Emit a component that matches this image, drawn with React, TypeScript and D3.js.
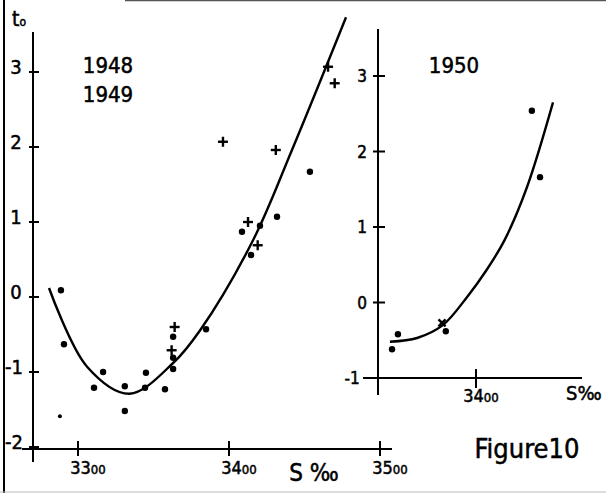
import React from "react";
import * as d3 from "d3";

// Left panel (1948, 1949)
const dotsLeftX = [3288.7, 3290.7, 3310.6, 3316.6, 3331, 3331, 3345, 3344.4, 3357.6, 3363, 3363, 3363, 3384.8, 3414.6, 3408.6, 3420.5, 3431.8, 3453.6, 3288];
const dotsLeftY = [0.09, -0.63, -1.21, -1.0, -1.19, -1.52, -1.01, -1.21, -1.23, -0.53, -0.81, -0.96, -0.43, 0.56, 0.87, 0.95, 1.07, 1.67, -1.59];
const crossLeftX = [3396, 3431, 3412.6, 3419, 3364, 3362, 3465.6, 3470];
const crossLeftY = [2.07, 1.96, 1.0, 0.69, -0.4, -0.71, 3.07, 2.85];
const curveLeftX = [3280.8, 3306, 3334, 3363, 3381, 3416, 3441.7, 3477.5];
const curveLeftY = [0.12, -0.93, -1.29, -0.88, -0.44, 0.76, 1.96, 3.73];
const yTicksLeft = [3, 2, 1, 0, -1, -2];
const xTicksLeft = [3300, 3400, 3500];

// Right panel (1950)
const dotsRightX = [3344.4, 3348.3, 3380, 3437, 3442.4];
const dotsRightY = [-0.62, -0.42, -0.38, 2.54, 1.66];
const crossRightX = [3377.5];
const crossRightY = [-0.27];
const curveRightX = [3343, 3361, 3378, 3394, 3407, 3419, 3433.8, 3451];
const curveRightY = [-0.52, -0.47, -0.3, 0.07, 0.43, 0.83, 1.53, 2.65];
const yTicksRight = [3, 2, 1, 0, -1];
const xTicksRight = [3400];

const FONT = "'DejaVu Sans Condensed', 'Liberation Sans Narrow', 'Liberation Sans', sans-serif";

function Cross({ x, y }: { x: number; y: number }) {
  const s = 5;
  return (
    <g stroke="#000" strokeWidth={2.4}>
      <line x1={x - s} x2={x + s} y1={y} y2={y} />
      <line x1={x} x2={x} y1={y - s} y2={y + s} />
    </g>
  );
}

const T = (props: any) => (
  <text fontFamily={FONT} fill="#000" stroke="#000" strokeWidth={0.5} textAnchor="middle" {...props} />
);

function XLabel({ x, y, v }: { x: number; y: number; v: number }) {
  const s = String(v);
  return (
    <T x={x} y={y} fontSize={18}>
      {s.slice(0, 2)}
      <tspan fontSize={13}>{s.slice(2)}</tspan>
    </T>
  );
}

export default function App() {
  const xL = d3.scaleLinear().domain([3300, 3500]).range([78, 380]);
  const yL = d3.scaleLinear().domain([-2, 3]).range([447, 72]);
  const xR = d3.scaleLinear().domain([3300, 3400]).range([325, 476]);
  const yR = d3.scaleLinear().domain([-1, 3]).range([378, 76]);

  const line = (xs: number[], ys: number[], sx: any, sy: any) =>
    d3
      .line<number>()
      .x((_, i) => sx(xs[i]))
      .y((_, i) => sy(ys[i]))
      .curve(d3.curveCatmullRom.alpha(0.5))(xs.map((_, i) => i)) || "";

  const axisL0 = xL.invert(33);
  const axisR0 = xR.invert(378);

  return (
    <svg
      width={606}
      height={493}
      style={{ position: "absolute", left: 0, top: 0, background: "#fff" }}
    >
      <rect x={0} y={0} width={606} height={493} fill="#fff" />
      {/* scan borders */}
      <line x1={4} x2={4} y1={0} y2={493} stroke="#000" strokeWidth={2} />
      <line x1={125} x2={606} y1={0.5} y2={0.5} stroke="#555" strokeWidth={1.5} />
      <line x1={0} x2={606} y1={492} y2={492} stroke="#bbb" strokeWidth={1} />

      {/* Left panel axes */}
      <line x1={xL(axisL0)} x2={xL(axisL0)} y1={32} y2={462} stroke="#000" strokeWidth={2} />
      <line x1={22} x2={392} y1={yL(-2) + 2} y2={yL(-2) + 2} stroke="#000" strokeWidth={2} />
      {yTicksLeft.map((t) => (
        <g key={"yl" + t}>
          <line x1={29} x2={39} y1={yL(t)} y2={yL(t)} stroke="#000" strokeWidth={2} />
          <T x={t < 0 ? 14 : 16} y={yL(t) + 2} fontSize={20}>
            {t}
          </T>
        </g>
      ))}
      {xTicksLeft.map((t) => (
        <g key={"xl" + t}>
          <line x1={xL(t)} x2={xL(t)} y1={yL(-2) - 6} y2={yL(-2) + 9} stroke="#000" strokeWidth={2} />
          <XLabel x={xL(t) + 10} y={474} v={t} />
        </g>
      ))}
      <T x={19} y={26} fontSize={21}>
        t<tspan fontSize={12}>o</tspan>
      </T>
      <T x={108} y={73} fontSize={22}>1948</T>
      <T x={108} y={102} fontSize={22}>1949</T>
      <T x={314} y={481} fontSize={24}>S ‰</T>

      <path d={line(curveLeftX, curveLeftY, xL, yL)} fill="none" stroke="#000" strokeWidth={2.4} />
      {dotsLeftX.map((x, i) => (
        <circle key={"dl" + i} cx={xL(x)} cy={yL(dotsLeftY[i])} r={i === dotsLeftX.length - 1 ? 2 : 3.2} fill="#000" />
      ))}
      {crossLeftX.map((x, i) => (
        <Cross key={"cl" + i} x={xL(x)} y={yL(crossLeftY[i])} />
      ))}

      {/* Right panel axes */}
      <line x1={xR(axisR0)} x2={xR(axisR0)} y1={29} y2={395} stroke="#000" strokeWidth={2} />
      <line x1={363} x2={582} y1={yR(-1)} y2={yR(-1)} stroke="#000" strokeWidth={2} />
      {yTicksRight.map((t) => (
        <g key={"yr" + t}>
          <line x1={373} x2={385} y1={yR(t)} y2={yR(t)} stroke="#000" strokeWidth={2} />
          <T x={t < 0 ? 352 : 362} y={yR(t) + 6} fontSize={17}>
            {t}
          </T>
        </g>
      ))}
      {xTicksRight.map((t) => (
        <g key={"xr" + t}>
          <line x1={xR(t)} x2={xR(t)} y1={yR(-1) - 9} y2={yR(-1) + 10} stroke="#000" strokeWidth={2} />
          <XLabel x={xR(t) + 5} y={402} v={t} />
        </g>
      ))}
      <T x={454} y={73} fontSize={22}>1950</T>
      <T x={566} y={400} fontSize={20} textAnchor="start">S‰</T>
      <T x={527} y={458} fontSize={27}>Figure10</T>

      <path d={line(curveRightX, curveRightY, xR, yR)} fill="none" stroke="#000" strokeWidth={2.4} />
      {dotsRightX.map((x, i) => (
        <circle key={"dr" + i} cx={xR(x)} cy={yR(dotsRightY[i])} r={3.2} fill="#000" />
      ))}
      {crossRightX.map((x, i) => (
        <g key={"cr" + i} transform={`rotate(45 ${xR(x)} ${yR(crossRightY[i])})`}>
          <Cross x={xR(x)} y={yR(crossRightY[i])} />
        </g>
      ))}
    </svg>
  );
}
